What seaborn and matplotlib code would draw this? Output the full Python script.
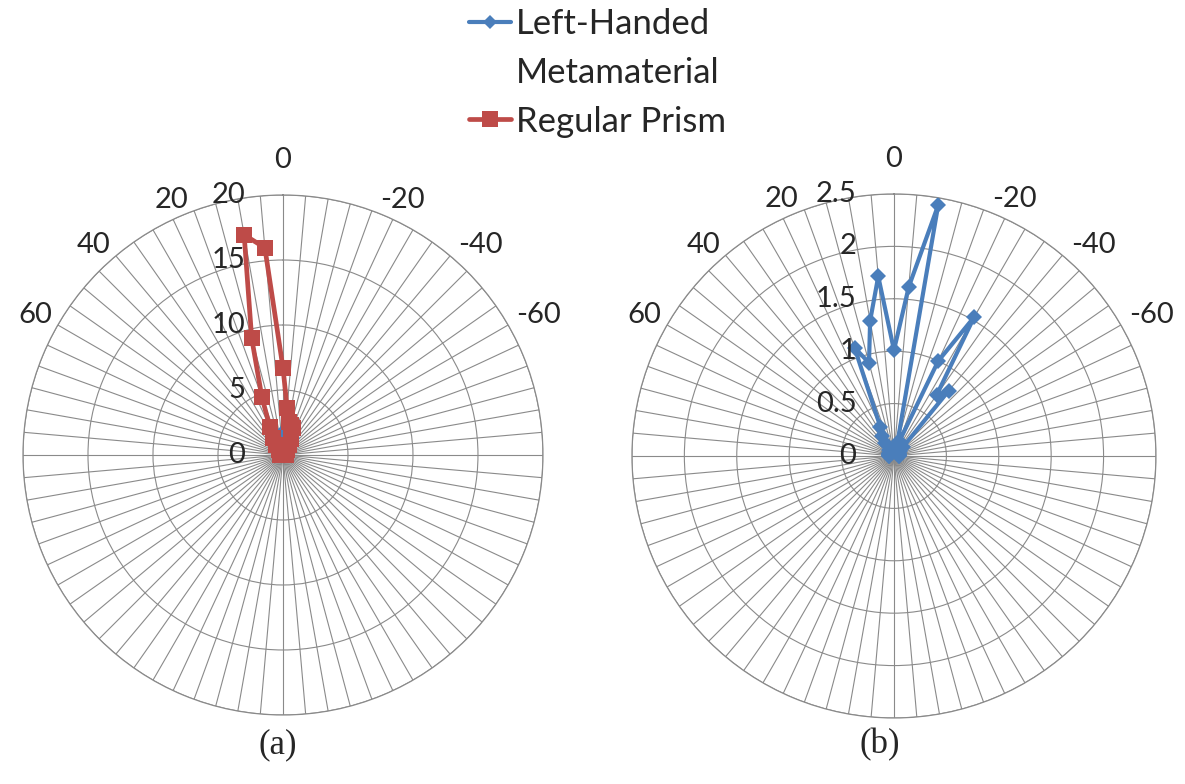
import numpy as np
import seaborn as sns
import matplotlib
matplotlib.use('Agg')
import matplotlib.pyplot as plt
from matplotlib.lines import Line2D

sns.set_style('white')
plt.rcParams['font.family'] = ['Lato', 'DejaVu Sans']

# angle categories (degrees), clockwise from the top
angles = [90, 85, 80, 75, 70, 65, 60, 55, 50, 45, 40, 35, 30, 25, 20, 15, 10, 5, 0,
          -5, -10, -15, -20, -25, -30, -35, -40, -45, -50, -55, -60, -65, -70, -75, -80, -85, -90]

prism = [0.2, 0.2, 0.2, 0.2, 0.2, 0.2, 0.2, 0.2, 0.2, 0.3, 0.5, 0.9, 1.5, 2.4, 4.75, 9.3, 17.2, 16.0, 6.7,
         3.65, 2.6, 2.4, 2.2, 1.4, 0.9, 0.5, 0.3, 0.2, 0.2, 0.2, 0.2, 0.2, 0.2, 0.2, 0.2, 0.2, 0.2]

lhm = [0.05, 0.05, 0.05, 0.05, 0.05, 0.05, 0.05, 0.05, 0.05, 0.05, 0.08, 0.15, 0.22, 0.31, 1.10, 0.92, 1.31, 1.72, 1.01,
       1.62, 2.43, 0.12, 0.15, 1.0, 1.53, 0.71, 0.81, 0.12, 0.08, 0.05, 0.05, 0.05, 0.05, 0.05, 0.05, 0.05, 0.05]

angle_labels = [60, 40, 20, 0, -20, -40, -60]

left_rticks = [0, 5, 10, 15, 20]
right_rticks = [0, 0.5, 1, 1.5, 2, 2.5]
right_rlabels = ['0', '0.5', '1', '1.5', '2', '2.5']

blue = '#4A7EBB'
red = '#BE4B48'
grid_col = '#8a8a8a'

theta = np.deg2rad(-np.array(angles, dtype=float))
theta_closed = np.append(theta, theta[0])


def close(vals):
    return np.append(vals, vals[0])


def setup_polar(ax, rticks, rlabels):
    ax.set_theta_zero_location('N')
    ax.set_theta_direction(-1)
    rmax = rticks[-1]
    ax.set_ylim(0, rmax)
    ax.set_xticks(np.deg2rad(np.arange(0, 360, 5)))
    ax.set_xticklabels([])
    ax.set_yticks(rticks[1:])
    ax.set_yticklabels([])
    ax.grid(True, color=grid_col, linewidth=0.8)
    ax.spines['polar'].set_color(grid_col)
    ax.spines['polar'].set_linewidth(0.9)
    ax.set_xlabel('')
    ax.set_ylabel('')
    # category labels, Excel style: anchored beside the spoke end
    for v in angle_labels:
        t = np.deg2rad(-v)
        if v == 0:
            off, ha = (0, 25), 'center'
        elif v < 0:
            off, ha = (6, 7.5), 'left'
        else:
            off, ha = (-4, 7.5), 'right'
        ax.annotate(str(v), xy=(t, rmax), xytext=off, textcoords='offset points',
                    ha=ha, va='center', fontsize=21, annotation_clip=False)
    # radial value labels left of the top spoke
    for r, lab in zip(rticks, rlabels):
        ax.annotate(lab, xy=(0, r), xytext=(-27, 0), textcoords='offset points',
                    ha='right', va='center', fontsize=21, annotation_clip=False)


fig = plt.figure(figsize=(11.85, 7.84), dpi=100)
ax1 = fig.add_axes([0.0194, 0.088, 0.4388, 0.6633], projection='polar')
ax2 = fig.add_axes([0.5333, 0.0842, 0.4422, 0.6684], projection='polar')

# (a) both series, prism on top
sns.lineplot(x=theta_closed, y=close(lhm), ax=ax1, sort=False, color=blue, linewidth=3.0,
             marker='D', markersize=7, markeredgewidth=0, label='Left-Handed', zorder=3)
sns.lineplot(x=theta_closed, y=close(prism), ax=ax1, sort=False, color=red, linewidth=3.4,
             marker='s', markersize=11, markeredgewidth=0, label='Regular Prism', zorder=4)
setup_polar(ax1, left_rticks, [str(t) for t in left_rticks])

# (b) metamaterial only
sns.lineplot(x=theta_closed, y=close(lhm), ax=ax2, sort=False, color=blue, linewidth=3.0,
             marker='D', markersize=8, markeredgewidth=0, zorder=3)
setup_polar(ax2, right_rticks, right_rlabels)

handles, labels = ax1.get_legend_handles_labels()
ax1.get_legend().remove()
# second line of the first label kept as its own row so the handle sits on the first line
handles = [handles[0], Line2D([], [], color='none'), handles[1]]
labels = ['Left-Handed', 'Metamaterial', 'Regular Prism']
fig.legend(handles, labels, loc='upper left', bbox_to_anchor=(438 / 1185, 1 + 23 / 784),
           frameon=False, fontsize=25, handlelength=1.2, handletextpad=0.15, labelspacing=0.48)

fig.text(278 / 1185, 1 - 745 / 784, '(a)', ha='center', va='center', fontsize=25,
         family='Liberation Serif')
fig.text(880 / 1185, 1 - 745 / 784, '(b)', ha='center', va='center', fontsize=25,
         family='Liberation Serif')

fig.savefig('out.png', dpi=100)
